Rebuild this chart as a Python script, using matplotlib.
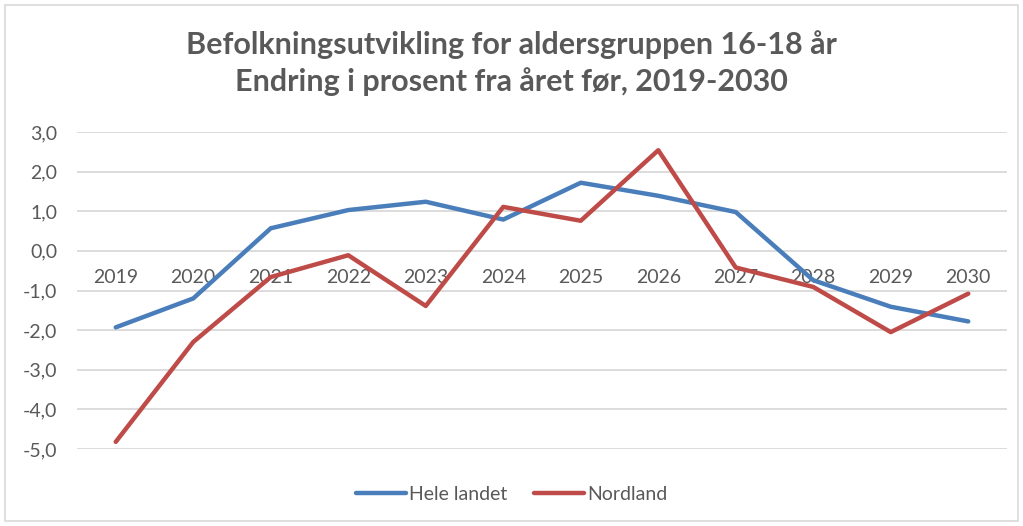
import numpy as np
import matplotlib.pyplot as plt
from matplotlib.patches import Rectangle

# --- data ---
aar = ["2019", "2020", "2021", "2022", "2023", "2024",
       "2025", "2026", "2027", "2028", "2029", "2030"]
hele_landet = [-1.93, -1.20, 0.57, 1.03, 1.24, 0.79,
               1.72, 1.39, 0.98, -0.74, -1.41, -1.78]
nordland = [-4.82, -2.30, -0.66, -0.11, -1.39, 1.11,
            0.76, 2.54, -0.42, -0.91, -2.05, -1.08]
y_ticks = [3, 2, 1, 0, -1, -2, -3, -4, -5]

tekst_farge = "#595959"
grid_farge = "#D9D9D9"

plt.rcParams["font.family"] = ["Lato", "DejaVu Sans"]

fig = plt.figure(figsize=(10.23, 5.26), dpi=100)
ax = fig.add_axes([77 / 1023, 77 / 526, 930 / 1023, 317 / 526])

x = np.arange(len(aar))
ax.plot(x, hele_landet, color="#4A7EBB", lw=3.2, solid_capstyle="round",
        solid_joinstyle="round", label="Hele landet", zorder=3)
ax.plot(x, nordland, color="#BE4B48", lw=3.2, solid_capstyle="round",
        solid_joinstyle="round", label="Nordland", zorder=3)

ax.set_xlim(-0.5, len(aar) - 0.5)
ax.set_ylim(-5, 3)
ax.set_yticks(y_ticks)
ax.set_yticklabels([f"{v:.1f}".replace(".", ",") for v in y_ticks])
ax.tick_params(axis="y", length=0, pad=14, labelsize=14, colors=tekst_farge)
ax.set_xticks([])
for v in y_ticks:
    ax.axhline(v, color=grid_farge, lw=1.3, zorder=1)
for s in ax.spines.values():
    s.set_visible(False)

# x labels sit on the zero line, like Excel does
for i, a in enumerate(aar):
    ax.text(i, -0.45, a, ha="center", va="top", fontsize=14,
            color=tekst_farge, zorder=2)

fig.text(0.5, 1 - 45 / 526, "Befolkningsutvikling for aldersgruppen 16-18 år",
         ha="center", va="center", fontsize=22, fontweight="bold", color=tekst_farge)
fig.text(0.5, 1 - 82 / 526, "Endring i prosent fra året før, 2019-2030",
         ha="center", va="center", fontsize=22, fontweight="bold", color=tekst_farge)

fig.legend(loc="center", bbox_to_anchor=(0.5, 1 - 494 / 526), ncol=2, frameon=False,
           fontsize=14, labelcolor=tekst_farge, handlelength=2.6,
           handletextpad=0.15, columnspacing=1.35)

# light frame around the whole chart
fig.patches.append(Rectangle((5 / 1023, 5 / 526), 1 - 10 / 1023, 1 - 10 / 526,
                             transform=fig.transFigure, fill=False,
                             edgecolor=grid_farge, lw=1.2))

fig.savefig("out.png", dpi=100)
